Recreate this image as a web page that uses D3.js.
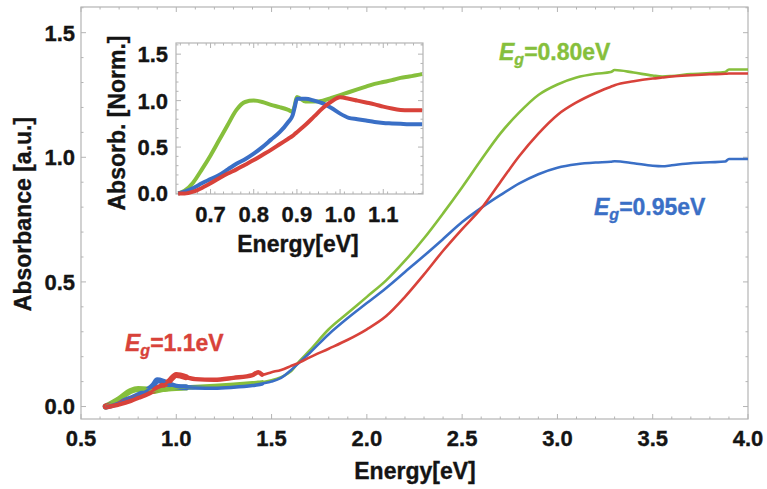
<!DOCTYPE html>
<html>
<head>
<meta charset="utf-8">
<script src="https://cdn.jsdelivr.net/npm/d3@7"></script>
<style>
  html, body { margin: 0; padding: 0; background: #fff; }
  svg { display: block; }
  text { font-family: "Liberation Sans", Arial, Helvetica, sans-serif; font-weight: bold; fill: #141414;
         stroke: #141414; stroke-width: 0.35px; paint-order: stroke; }
</style>
</head>
<body>
<svg id="chart" width="767" height="489"></svg>
<script>
// ---- Absorbance spectra (main panel) ----
const energy = [0.63, 0.70, 0.76, 0.80, 0.85, 0.88, 0.90, 0.93, 0.96, 1.00, 1.05, 1.10, 1.20, 1.30, 1.40, 1.43, 1.45,
                1.50, 1.55, 1.60, 1.65, 1.70, 1.80, 1.90, 2.00, 2.10, 2.20, 2.30, 2.40, 2.50, 2.60, 2.70, 2.80,
                2.90, 3.00, 3.10, 3.20, 3.28, 3.30, 3.40, 3.50, 3.55, 3.60, 3.70, 3.80, 3.88, 3.90, 4.00];
const absGreen = [0.000, 0.030, 0.062, 0.070, 0.068, 0.062, 0.065, 0.070, 0.072, 0.074, 0.076, 0.078, 0.082, 0.087, 0.093, 0.095, 0.097,
                  0.105, 0.118, 0.140, 0.185, 0.225, 0.310, 0.375, 0.440, 0.505, 0.585, 0.675, 0.775, 0.880, 0.990, 1.095, 1.180,
                  1.250, 1.292, 1.320, 1.335, 1.342, 1.350, 1.340, 1.328, 1.324, 1.326, 1.334, 1.338, 1.342, 1.352, 1.352];
const absBlue  = [0.000, 0.015, 0.032, 0.045, 0.066, 0.085, 0.105, 0.100, 0.090, 0.080, 0.077, 0.076, 0.075, 0.079, 0.086, 0.089, 0.092,
                  0.100, 0.115, 0.145, 0.180, 0.215, 0.290, 0.355, 0.415, 0.475, 0.540, 0.605, 0.672, 0.740, 0.797, 0.848, 0.895,
                  0.932, 0.958, 0.972, 0.979, 0.982, 0.984, 0.976, 0.966, 0.964, 0.968, 0.976, 0.980, 0.983, 0.993, 0.993];
const absRed   = [0.000, 0.012, 0.026, 0.038, 0.053, 0.065, 0.073, 0.085, 0.100, 0.127, 0.118, 0.110, 0.107, 0.115, 0.126, 0.138, 0.128,
                  0.138, 0.147, 0.162, 0.178, 0.197, 0.232, 0.268, 0.310, 0.362, 0.440, 0.530, 0.625, 0.712, 0.795, 0.900, 1.005,
                  1.095, 1.170, 1.220, 1.258, 1.283, 1.289, 1.305, 1.316, 1.320, 1.324, 1.329, 1.333, 1.335, 1.336, 1.336];

// ---- Normalised absorption near the band edge (inset) ----
const insetEnergy = [0.625, 0.64, 0.66, 0.68, 0.70, 0.72, 0.74, 0.76, 0.78, 0.80, 0.82, 0.84, 0.86, 0.88, 0.89, 0.895,
                     0.90, 0.92, 0.94, 0.96, 0.98, 1.00, 1.02, 1.04, 1.06, 1.08, 1.10, 1.12, 1.14, 1.16, 1.19];
const normGreen = [0.00, 0.03, 0.12, 0.26, 0.41, 0.575, 0.74, 0.90, 0.985, 1.00, 0.985, 0.955, 0.93, 0.90, 0.88, 0.95,
                   1.04, 0.99, 0.99, 1.00, 1.03, 1.06, 1.09, 1.12, 1.15, 1.18, 1.20, 1.22, 1.245, 1.26, 1.285];
const normBlue  = [0.00, 0.02, 0.06, 0.11, 0.155, 0.20, 0.26, 0.32, 0.37, 0.43, 0.50, 0.58, 0.66, 0.77, 0.84, 0.93,
                   1.02, 1.02, 1.00, 0.97, 0.92, 0.86, 0.815, 0.80, 0.785, 0.77, 0.76, 0.755, 0.75, 0.745, 0.745];
const normRed   = [0.00, 0.00, 0.02, 0.06, 0.11, 0.165, 0.215, 0.26, 0.31, 0.36, 0.415, 0.47, 0.53, 0.59, 0.62, 0.64,
                   0.66, 0.74, 0.83, 0.92, 0.99, 1.035, 1.02, 1.00, 0.98, 0.96, 0.935, 0.915, 0.90, 0.895, 0.895];

const xTicks = [0.5, 1.0, 1.5, 2.0, 2.5, 3.0, 3.5, 4.0];
const yTicks = [0.0, 0.5, 1.0, 1.5];
const insetXTicks = [0.7, 0.8, 0.9, 1.0, 1.1];
const insetYTicks = [0.0, 0.5, 1.0, 1.5];

const seriesNames = ["green", "blue", "red"];
const colors = { green: "#86bf3c", blue: "#3a6fc6", red: "#d8423a" };
const gapLabels = [
  { key: "green", value: "0.80", x: 499, y: 60 },
  { key: "blue",  value: "0.95", x: 594, y: 215 },
  { key: "red",   value: "1.1",  x: 125, y: 351 }
];

const svg = d3.select("#chart");
const frameColor = "#b4b4b4";

function drawFrame(g, x, y, xMinor, yMinor, xMajor, yMajor) {
  const [x0, x1] = x.range();
  const [y0, y1] = y.range();
  g.append("rect")
    .attr("x", x0).attr("y", y1).attr("width", x1 - x0).attr("height", y0 - y1)
    .attr("fill", "none").attr("stroke", frameColor).attr("stroke-width", 1.2);
  const tk = g.append("g").attr("stroke", frameColor).attr("stroke-width", 1);
  const addX = (vals, len) => vals.forEach(v => {
    const px = x(v);
    tk.append("line").attr("x1", px).attr("x2", px).attr("y1", y0).attr("y2", y0 - len);
    tk.append("line").attr("x1", px).attr("x2", px).attr("y1", y1).attr("y2", y1 + len);
  });
  const addY = (vals, len) => vals.forEach(v => {
    const py = y(v);
    tk.append("line").attr("x1", x0).attr("x2", x0 + len).attr("y1", py).attr("y2", py);
    tk.append("line").attr("x1", x1).attr("x2", x1 - len).attr("y1", py).attr("y2", py);
  });
  addX(xMinor, 2.5); addY(yMinor, 2.5);
  addX(xMajor, 5);   addY(yMajor, 5);
}

// ---------- main panel ----------
const x = d3.scaleLinear().domain([0.5, 4.0]).range([81, 748]);
const y = d3.scaleLinear().domain([-0.05, 1.603]).range([419, 7]);

const main = svg.append("g");
const mainMinorX = d3.range(5, 41).map(d => d / 10).filter(v => !xTicks.includes(v));
const mainMinorY = d3.range(0, 17).map(d => d / 10).filter(v => !yTicks.includes(v));
drawFrame(main, x, y, mainMinorX, mainMinorY, xTicks, yTicks);

const mainSeries = {
  green: energy.map((e, i) => [e, absGreen[i]]),
  blue:  energy.map((e, i) => [e, absBlue[i]]),
  red:   energy.map((e, i) => [e, absRed[i]])
};
const line = d3.line().x(d => x(d[0])).y(d => y(d[1])).curve(d3.curveMonotoneX);

// noisy low-energy part: a broader band drawn under the trace
seriesNames.forEach(k => {
  main.append("path")
    .datum(mainSeries[k].filter(d => d[0] <= 1.05))
    .attr("d", line).attr("fill", "none")
    .attr("stroke", colors[k]).attr("stroke-width", 6).attr("stroke-linejoin", "round").attr("stroke-linecap", "round");
  main.append("path")
    .datum(mainSeries[k].filter(d => d[0] >= 1.0 && d[0] <= 1.45))
    .attr("d", line).attr("fill", "none")
    .attr("stroke", colors[k]).attr("stroke-width", 4.5).attr("stroke-linejoin", "round").attr("stroke-linecap", "round");
});
seriesNames.forEach(k => {
  main.append("path")
    .datum(mainSeries[k])
    .attr("d", line).attr("fill", "none")
    .attr("stroke", colors[k]).attr("stroke-width", 2.6).attr("stroke-linejoin", "round");
});

// axis tick labels
main.append("g").selectAll("text").data(xTicks).join("text")
  .attr("x", d => x(d)).attr("y", 446).attr("text-anchor", "middle")
  .style("font-size", "22px").text(d => d.toFixed(1));
main.append("g").selectAll("text").data(yTicks).join("text")
  .attr("x", 75).attr("y", d => y(d)).attr("text-anchor", "end").attr("dy", "0.36em")
  .style("font-size", "22px").text(d => d.toFixed(1));

main.append("text").attr("x", 415).attr("y", 479).attr("text-anchor", "middle")
  .style("font-size", "23px").text("Energy[eV]");
main.append("text").attr("transform", "translate(31,214) rotate(-90)").attr("text-anchor", "middle")
  .style("font-size", "23px").text("Absorbance [a.u.]");

// band-gap annotations
gapLabels.forEach(l => {
  const t = main.append("text").attr("x", l.x).attr("y", l.y)
    .style("font-size", "23px").style("fill", colors[l.key]).style("stroke", colors[l.key]);
  t.append("tspan").style("font-style", "italic").text("E");
  t.append("tspan").style("font-style", "italic").style("font-size", "16px").attr("dy", 5).text("g");
  t.append("tspan").attr("dy", -5).text("=" + l.value + "eV");
});

// ---------- inset ----------
const ix = d3.scaleLinear().domain([0.62, 1.192]).range([176, 423]);
const iy = d3.scaleLinear().domain([-0.005, 1.62]).range([194, 43]);
const inset = svg.append("g");
inset.append("rect").attr("x", 176).attr("y", 43).attr("width", 247).attr("height", 151).attr("fill", "#fff");
const insetMinorX = d3.range(63, 120, 2).map(d => d / 100).filter(v => !insetXTicks.some(t => Math.abs(t - v) < 1e-9));
const insetMinorY = d3.range(0, 17).map(d => d / 10).filter(v => !insetYTicks.includes(v));
drawFrame(inset, ix, iy, insetMinorX, insetMinorY, insetXTicks, insetYTicks);

const insetSeries = {
  green: insetEnergy.map((e, i) => [e, normGreen[i]]),
  blue:  insetEnergy.map((e, i) => [e, normBlue[i]]),
  red:   insetEnergy.map((e, i) => [e, normRed[i]])
};
const iline = d3.line().x(d => ix(d[0])).y(d => iy(d[1])).curve(d3.curveMonotoneX);
seriesNames.forEach(k => {
  inset.append("path").datum(insetSeries[k]).attr("d", iline).attr("fill", "none")
    .attr("stroke", colors[k]).attr("stroke-width", 4).attr("stroke-linejoin", "round");
});

inset.append("g").selectAll("text").data(insetXTicks).join("text")
  .attr("x", d => ix(d)).attr("y", 221.5).attr("text-anchor", "middle")
  .style("font-size", "22px").text(d => d.toFixed(1));
inset.append("g").selectAll("text").data(insetYTicks).join("text")
  .attr("x", 168).attr("y", d => iy(d)).attr("text-anchor", "end").attr("dy", "0.36em")
  .style("font-size", "22px").text(d => d.toFixed(1));
inset.append("text").attr("x", 298).attr("y", 252).attr("text-anchor", "middle")
  .style("font-size", "23px").text("Energy[eV]");
inset.append("text").attr("transform", "translate(125,123) rotate(-90)").attr("text-anchor", "middle")
  .style("font-size", "23px").text("Absorb. [Norm.]");
</script>
</body>
</html>
